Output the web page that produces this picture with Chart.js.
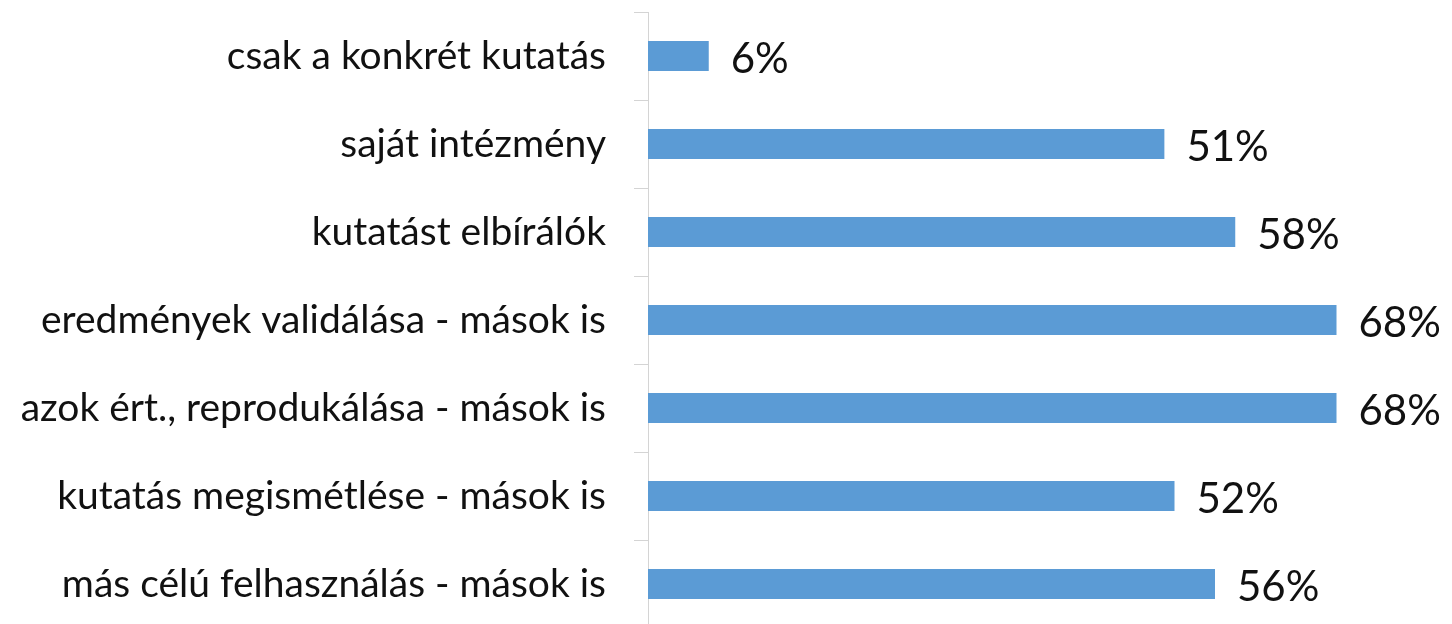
<!DOCTYPE html>
<html>
<head>
<meta charset="utf-8">
<script src="https://cdn.jsdelivr.net/npm/chart.js@4/dist/chart.umd.min.js"></script>
<style>
  html, body { margin: 0; padding: 0; background: #fff; overflow: hidden; }
  #wrap { width: 1452px; height: 624px; overflow: hidden; position: relative; }
  canvas { position: absolute; left: 0; top: 0; }
</style>
</head>
<body>
<div id="wrap"><canvas id="c" width="1458" height="628"></canvas></div>
<script>
const categories = [
  "csak a konkrét kutatás",
  "saját intézmény",
  "kutatást elbírálók",
  "eredmények validálása - mások is",
  "azok ért., reprodukálása - mások is",
  "kutatás megismétlése - mások is",
  "más célú felhasználás - mások is"
];
const values = [6, 51, 58, 68, 68, 52, 56];
const valueLabels = ["6%", "51%", "58%", "68%", "68%", "52%", "56%"];

const labelFont = '"Lato", "Liberation Sans", sans-serif';

const dataLabelPlugin = {
  id: 'dataLabels',
  afterDatasetsDraw(chart) {
    const ctx = chart.ctx;
    const meta = chart.getDatasetMeta(0);
    ctx.save();
    ctx.fillStyle = '#111';
    ctx.font = '42px ' + labelFont;
    ctx.textAlign = 'left';
    ctx.textBaseline = 'middle';
    meta.data.forEach((bar, i) => {
      ctx.fillText(valueLabels[i], bar.x + 22, bar.y + 3);
    });
    ctx.restore();
  }
};

new Chart(document.getElementById('c'), {
  type: 'bar',
  data: {
    labels: categories,
    datasets: [{
      data: values,
      backgroundColor: '#5B9BD5',
      borderWidth: 0,
      barPercentage: 0.34,
      categoryPercentage: 1.0
    }]
  },
  options: {
    indexAxis: 'y',
    responsive: false,
    animation: false,
    devicePixelRatio: 1,
    layout: { padding: { top: 12, bottom: 0, left: 0, right: 0 } },
    plugins: { legend: { display: false }, tooltip: { enabled: false } },
    scales: {
      x: { display: false, min: 0, max: 80 },
      y: {
        afterFit(s) { s.width = 648; s.paddingTop = 0; s.paddingBottom = 0; },
        grid: {
          display: true,
          drawOnChartArea: false,
          drawTicks: true,
          tickLength: 14,
          color: '#d4d4d4',
          offset: true
        },
        border: { display: true, color: '#d4d4d4', width: 1 },
        ticks: {
          color: '#111',
          padding: 28,
          font: { family: labelFont, size: 39 }
        }
      }
    }
  },
  plugins: [dataLabelPlugin]
});
</script>
</body>
</html>
